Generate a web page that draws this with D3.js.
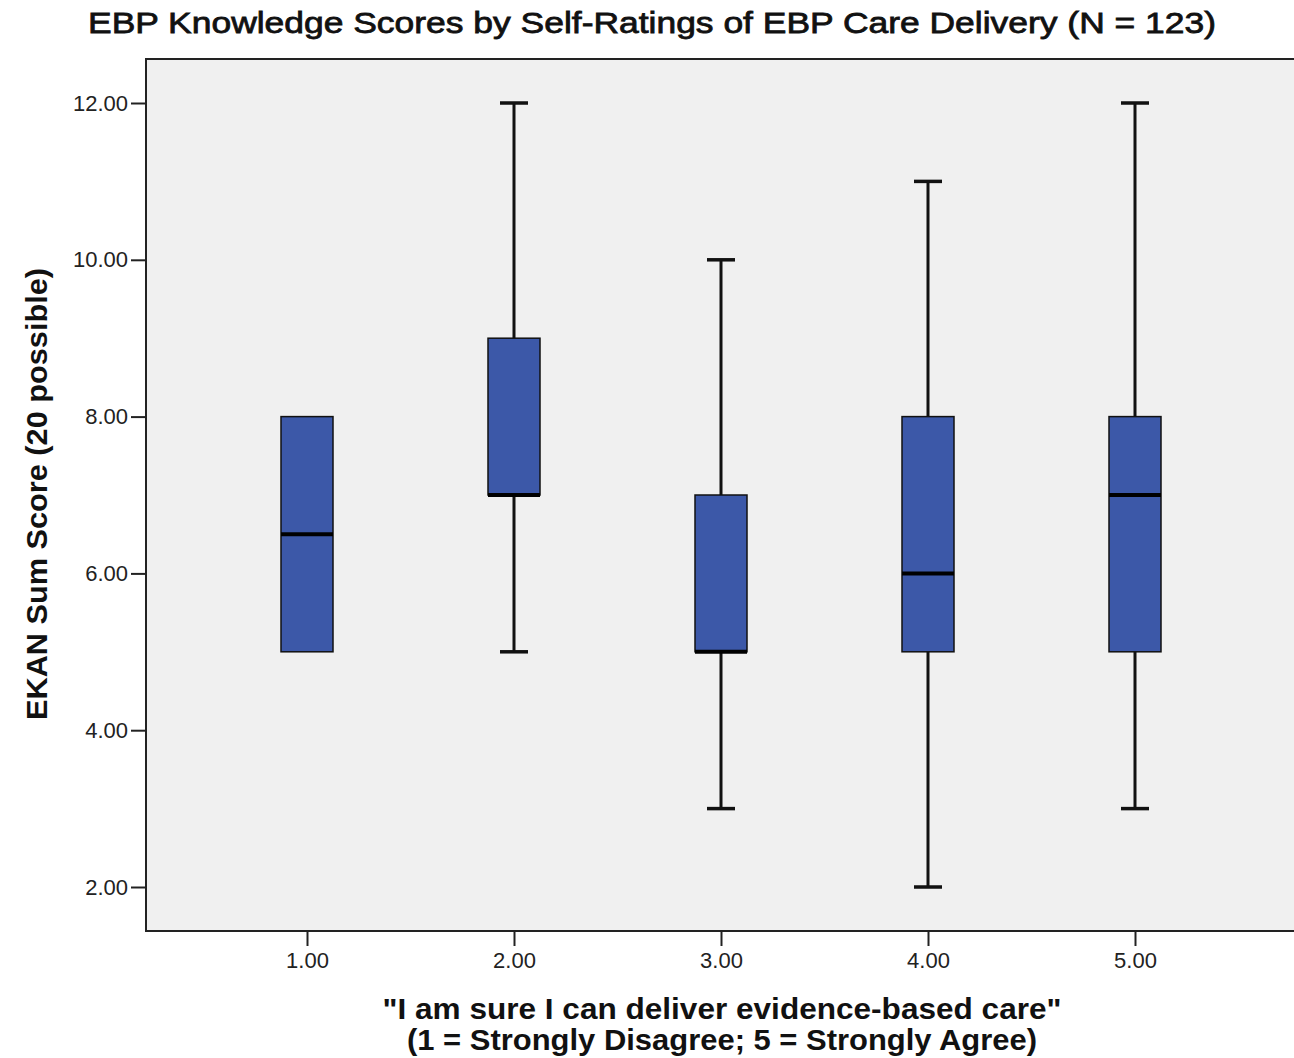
<!DOCTYPE html>
<html><head><meta charset="utf-8">
<script src="https://cdn.jsdelivr.net/npm/d3@7"></script>
<style>body{margin:0;background:#fff}svg{display:block}</style>
</head><body>
<svg id="c" width="1294" height="1058"></svg>
<script>
const categories = [1, 2, 3, 4, 5];
const mins    = [5, 5, 3, 2, 3];
const q1s     = [5, 7, 5, 5, 5];
const medians = [6.5, 7, 5, 6, 7];
const q3s     = [8, 9, 7, 8, 8];
const maxs    = [8, 12, 10, 11, 12];
const yTicks  = [2, 4, 6, 8, 10, 12];

const svg = d3.select("#c");
const L = 146, T = 59, R = 1297, B = 931;
const x = d3.scaleLinear().domain([1, 5]).range([307, 1135]);
const y = d3.scaleLinear().domain([2, 12]).range([887, 103]);
const font = "'Liberation Sans', Arial, sans-serif";

svg.append("rect").attr("x", L).attr("y", T).attr("width", R - L).attr("height", B - T)
  .attr("fill", "#f0f0f0").attr("stroke", "#222").attr("stroke-width", 2);

const yAxis = svg.append("g").attr("transform", `translate(${L},0)`)
  .call(d3.axisLeft(y).tickValues(yTicks).tickFormat(d3.format(".2f")).tickSize(15).tickPadding(3));
const xAxis = svg.append("g").attr("transform", `translate(0,${B})`)
  .call(d3.axisBottom(x).tickValues(categories).tickFormat(d3.format(".2f")).tickSize(15).tickPadding(6));
[yAxis, xAxis].forEach(a => {
  a.select(".domain").remove();
  a.selectAll("line").attr("stroke", "#222").attr("stroke-width", 2);
  a.selectAll("text").attr("font-family", font).attr("font-size", 22).attr("fill", "#222");
});

const data = categories.map((c, i) => ({c, min: mins[i], q1: q1s[i], med: medians[i], q3: q3s[i], max: maxs[i]}));
const bw = 52, cw = 28;
const g = svg.append("g");
data.forEach(d => {
  const cx = x(d.c);
  if (d.max > d.q3) {
    g.append("line").attr("x1", cx).attr("x2", cx).attr("y1", y(d.max)).attr("y2", y(d.q3)).attr("stroke", "#111").attr("stroke-width", 3);
    g.append("line").attr("x1", cx - cw / 2).attr("x2", cx + cw / 2).attr("y1", y(d.max)).attr("y2", y(d.max)).attr("stroke", "#111").attr("stroke-width", 3.5);
  }
  if (d.min < d.q1) {
    g.append("line").attr("x1", cx).attr("x2", cx).attr("y1", y(d.q1)).attr("y2", y(d.min)).attr("stroke", "#111").attr("stroke-width", 3);
    g.append("line").attr("x1", cx - cw / 2).attr("x2", cx + cw / 2).attr("y1", y(d.min)).attr("y2", y(d.min)).attr("stroke", "#111").attr("stroke-width", 3.5);
  }
  g.append("rect").attr("x", cx - bw / 2).attr("y", y(d.q3)).attr("width", bw).attr("height", y(d.q1) - y(d.q3))
    .attr("fill", "#3c58a8").attr("stroke", "#111").attr("stroke-width", 1.5);
  g.append("line").attr("x1", cx - bw / 2).attr("x2", cx + bw / 2).attr("y1", y(d.med)).attr("y2", y(d.med)).attr("stroke", "#000").attr("stroke-width", 4);
});

svg.append("text").attr("x", 652).attr("y", 33).attr("text-anchor", "middle")
  .attr("font-family", font).attr("font-size", 30).attr("fill", "#111")
  .attr("stroke", "#111").attr("stroke-width", 0.8)
  .attr("textLength", 1128).attr("lengthAdjust", "spacingAndGlyphs")
  .text("EBP Knowledge Scores by Self-Ratings of EBP Care Delivery (N = 123)");

svg.append("text").attr("transform", "translate(47,494) rotate(-90)").attr("text-anchor", "middle")
  .attr("font-family", font).attr("font-size", 29).attr("font-weight", "bold").attr("fill", "#111")
  .attr("textLength", 452).attr("lengthAdjust", "spacingAndGlyphs")
  .text("EKAN Sum Score (20 possible)");

svg.append("text").attr("x", 722).attr("y", 1019).attr("text-anchor", "middle")
  .attr("font-family", font).attr("font-size", 30).attr("font-weight", "bold").attr("fill", "#111")
  .attr("textLength", 679).attr("lengthAdjust", "spacingAndGlyphs")
  .text("\"I am sure I can deliver evidence-based care\"");
svg.append("text").attr("x", 722).attr("y", 1050).attr("text-anchor", "middle")
  .attr("font-family", font).attr("font-size", 30).attr("font-weight", "bold").attr("fill", "#111")
  .attr("textLength", 630).attr("lengthAdjust", "spacingAndGlyphs")
  .text("(1 = Strongly Disagree; 5 = Strongly Agree)");
</script>
</body></html>
